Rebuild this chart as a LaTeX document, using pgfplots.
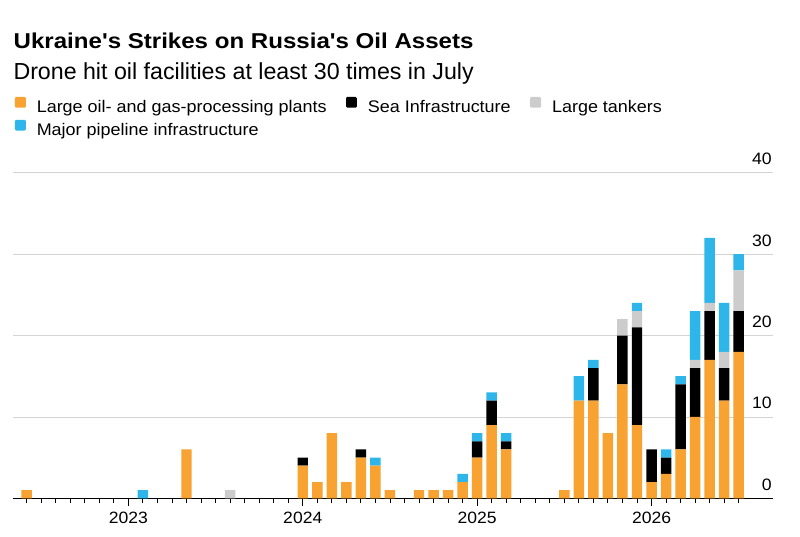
\documentclass[border=0pt]{standalone}
\usepackage{fontspec}
\setmainfont{Liberation Sans}
\usepackage{pgfplots}
\pgfplotsset{compat=1.18}
\usepackage{pgfplotstable}
\newfontfamily\titlefont[FakeStretch=1.12]{Liberation Sans}
\newfontfamily\widefont[FakeStretch=1.07]{Liberation Sans}
\definecolor{cOrange}{HTML}{F8A231}
\definecolor{cBlue}{HTML}{2EB5EA}
\definecolor{cGray}{HTML}{CCCCCC}
\definecolor{cGrid}{HTML}{D4D4D4}
\pgfplotsset{sqleg/.style={legend image code/.code={\fill[##1,draw=none,rounded corners=1.2pt] (0pt,-0.3pt) rectangle (10.8pt,10.5pt);}}}

\pgfplotstableread{
x o k g b
-7 1 0 0 0
1 0 0 0 1
4 6 0 0 0
7 0 0 1 0
12 4 1 0 0
13 2 0 0 0
14 8 0 0 0
15 2 0 0 0
16 5 1 0 0
17 4 0 0 1
18 1 0 0 0
20 1 0 0 0
21 1 0 0 0
22 1 0 0 0
23 2 0 0 1
24 5 2 0 1
25 9 3 0 1
26 6 1 0 1
30 1 0 0 0
31 12 0 0 3
32 12 4 0 1
33 8 0 0 0
34 14 6 2 0
35 9 12 2 1
36 2 4 0 0
37 3 2 0 1
38 6 8 0 1
39 10 6 1 6
40 17 6 1 8
41 12 4 2 6
42 18 5 5 2
}\strikes

\begin{document}
\begin{tikzpicture}
\path (0pt,0pt) rectangle (800pt,536pt);
\node[anchor=base west, inner sep=0pt] at (13.5pt,487.7pt) {\titlefont\bfseries\fontsize{21.5}{25}\selectfont Ukraine's Strikes on Russia's Oil Assets};
\node[anchor=base west, inner sep=0pt] at (13.3pt,456pt) {\fontsize{23.2}{27}\selectfont Drone hit oil facilities at least 30 times in July};
\begin{axis}[
  at={(13pt,37.7pt)}, anchor=south west,
  width=760pt, height=325.6pt, scale only axis,
  xmin=-7.94, xmax=44.36, ymin=0, ymax=40,
  ybar stacked, bar width=0.72,
  axis x line=bottom, axis y line=right,
  axis line style={-},
  x axis line style={black, line width=1.2pt},
  y axis line style={draw=none},
  ytick={0,10,20,30,40},
  /pgf/number format/assume math mode=true,
  ymajorgrids, grid style={cGrid, line width=0.8pt},
  xtick={0,12,24,36}, xticklabels={2023,2024,2025,2026},
  minor xtick={-7,...,42},
  tick align=outside, major tick length=7.5pt, minor tick length=4.5pt,
  xtick style={black, line width=0.9pt},
  ytick style={draw=none},
  xticklabel style={font=\widefont\fontsize{16.4}{18}\selectfont, anchor=base, inner sep=0pt, yshift=-18pt},
  yticklabel style={font=\widefont\fontsize{16.5}{18}\selectfont, anchor=base east, inner sep=0pt, xshift=-8.5pt, yshift=8pt},
  legend columns=3,
  legend cell align=left,
  legend style={at={(0.0026,1.2327)}, anchor=north west, draw=none, fill=none,
    inner sep=0pt, outer sep=0pt,
    font=\widefont\fontsize{16.8}{20}\selectfont,
    nodes={inner sep=0pt, text height=12.5pt, text depth=3pt},
    row sep=4.6pt,
    /tikz/every odd column/.style={column sep=11pt},
    /tikz/every even column/.style={column sep=19.5pt}},
]
\addplot[fill=cOrange, draw=none, sqleg] table[x=x,y=o]{\strikes};
\addlegendentry{Large oil- and gas-processing plants}
\addplot[fill=black, draw=none, sqleg] table[x=x,y=k]{\strikes};
\addlegendentry{Sea Infrastructure}
\addplot[fill=cGray, draw=none, sqleg] table[x=x,y=g]{\strikes};
\addlegendentry{Large tankers}
\addplot[fill=cBlue, draw=none, sqleg] table[x=x,y=b]{\strikes};
\addlegendentry{Major pipeline infrastructure}
\end{axis}
\end{tikzpicture}
\end{document}
